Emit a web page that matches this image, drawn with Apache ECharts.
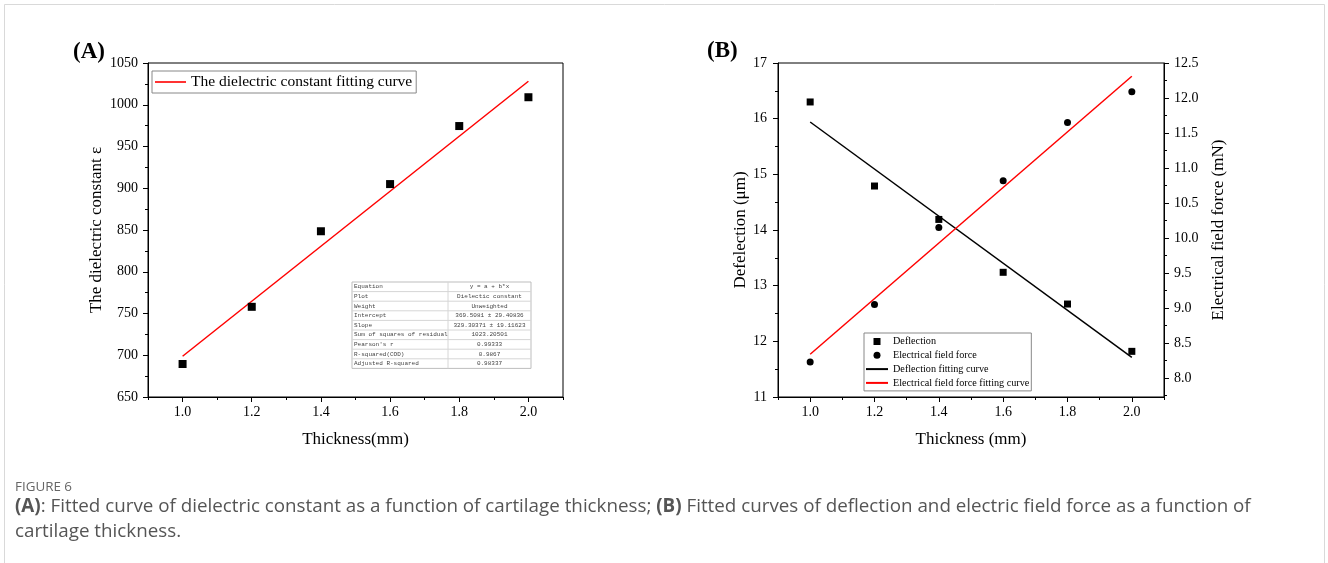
<!DOCTYPE html>
<html>
<head>
<meta charset="utf-8">
<script src="https://cdn.jsdelivr.net/npm/echarts@6/dist/echarts.min.js"></script>
<style>html,body{margin:0;padding:0;background:#fff;}#chart{width:1328px;height:563px;}</style>
</head>
<body>
<div id="chart"></div>
<script>
// ---- data ----
const thickness = [1.0, 1.2, 1.4, 1.6, 1.8, 2.0];
const dielectricConstant = [689.5, 758, 848.5, 905, 974.5, 1009];
const fitX = [1.0, 2.0];
const dielectricFit = [698.8, 1028.1];
const deflection = [16.30, 14.79, 14.19, 13.24, 12.67, 11.82];
const fieldForce = [8.23, 9.05, 10.15, 10.82, 11.65, 12.09];
const deflectionFit = [15.94, 11.71];
const fieldForceFit = [8.34, 12.31];
// tick values
const xMajor = [1.0, 1.2, 1.4, 1.6, 1.8, 2.0];
const xMinor = [0.9, 1.1, 1.3, 1.5, 1.7, 1.9, 2.1];
const aYMajor = [650, 700, 750, 800, 850, 900, 950, 1000, 1050];
const aYMinor = [675, 725, 775, 825, 875, 925, 975, 1025];
const bLMajor = [11, 12, 13, 14, 15, 16, 17];
const bLMinor = [11.5, 12.5, 13.5, 14.5, 15.5, 16.5];
const bRMajor = [8.0, 8.5, 9.0, 9.5, 10.0, 10.5, 11.0, 11.5, 12.0, 12.5];
const bRMinor = [7.75, 8.25, 8.75, 9.25, 9.75, 10.25, 10.75, 11.25, 11.75, 12.25];
// fit statistics table
const tableLabels = ['Equation', 'Plot', 'Weight', 'Intercept', 'Slope', 'Sum of squares of residual', "Pearson's r", 'R-squared(COD)', 'Adjusted R-squared'];
const tableValues = ['y = a + b*x', 'Dielectic constant', 'Unweighted', '369.5081 \u00b1 29.40836', '329.30371 \u00b1 19.11623', '1023.20501', '0.99333', '0.9867', '0.98337'];

const SERIF = '"Liberation Serif", "Times New Roman", serif';
const lbl = {fontFamily: SERIF, fontSize: 14, color: '#000'};
const nameStyle = {fontFamily: SERIF, fontSize: 17, color: '#000'};
const axLine = {show: true, onZero: false, lineStyle: {color: '#000', width: 1}};

function pair(xs, ys) { return xs.map((x, i) => [x, ys[i]]); }

function xAxes(grid, name) {
  return [
    {type: 'value', gridIndex: grid, position: 'bottom', min: 0.9, max: 2.1,
     name: name, nameLocation: 'middle', nameGap: 34, nameTextStyle: nameStyle,
     axisLine: axLine, splitLine: {show: false},
     axisTick: {show: true, length: 5, customValues: xMajor, lineStyle: {color: '#000'}},
     axisLabel: {customValues: xMajor, margin: 8, formatter: v => v.toFixed(1), ...lbl}},
    {type: 'value', gridIndex: grid, position: 'bottom', min: 0.9, max: 2.1,
     axisLine: {show: false}, splitLine: {show: false}, axisLabel: {show: false},
     axisTick: {show: true, length: 3, customValues: xMinor, lineStyle: {color: '#000'}}}
  ];
}
function yAxes(grid, pos, min, max, major, minor, name, gap, margin, fmt) {
  return [
    {type: 'value', gridIndex: grid, position: pos, min: min, max: max,
     name: name, nameLocation: 'middle', nameGap: gap, nameTextStyle: nameStyle,
     axisLine: axLine, splitLine: {show: false},
     axisTick: {show: true, length: 5, customValues: major, lineStyle: {color: '#000'}},
     axisLabel: {customValues: major, margin: margin, formatter: fmt, ...lbl}},
    {type: 'value', gridIndex: grid, position: pos, min: min, max: max,
     axisLine: {show: false}, splitLine: {show: false}, axisLabel: {show: false},
     axisTick: {show: true, length: 3, customValues: minor, lineStyle: {color: '#000'}}}
  ];
}

// table graphic
const tX = 352, tY = 282, tW = 179, rowH = 9.6, colX = 448;
const tableEls = [{type: 'rect', shape: {x: tX, y: tY, width: tW, height: rowH * tableLabels.length},
  style: {fill: '#fff', stroke: '#bdbdbd', lineWidth: 1}},
  {type: 'line', shape: {x1: colX, y1: tY, x2: colX, y2: tY + rowH * tableLabels.length}, style: {stroke: '#d6d6d6', lineWidth: 1}}];
tableLabels.forEach((t, i) => {
  if (i > 0) tableEls.push({type: 'line', shape: {x1: tX, y1: tY + rowH * i, x2: tX + tW, y2: tY + rowH * i}, style: {stroke: '#d6d6d6', lineWidth: 1}});
  tableEls.push({type: 'text', x: tX + 2, y: tY + rowH * i + rowH / 2, style: {text: t, fontFamily: '"Liberation Mono", monospace', fontSize: 6, fill: '#444', verticalAlign: 'middle'}});
  tableEls.push({type: 'text', x: (colX + tX + tW) / 2, y: tY + rowH * i + rowH / 2, style: {text: tableValues[i], fontFamily: '"Liberation Mono", monospace', fontSize: 6, fill: '#444', align: 'center', verticalAlign: 'middle'}});
});

const lineIconA = 'path://M0,0H31V1.6H0Z';
const lineIconB = 'path://M0,0H22V2H0Z';

const chart = echarts.init(document.getElementById('chart'), null, {renderer: 'canvas'});
chart.setOption({
  backgroundColor: '#fff',
  animation: false,
  grid: [
    {left: 148, top: 63, width: 415, height: 334, show: true, borderColor: '#000', borderWidth: 1, backgroundColor: 'transparent'},
    {left: 778, top: 63, width: 386, height: 334, show: true, borderColor: '#000', borderWidth: 1, backgroundColor: 'transparent'}
  ],
  xAxis: [...xAxes(0, 'Thickness(mm)'), ...xAxes(1, 'Thickness (mm)')],
  yAxis: [
    ...yAxes(0, 'left', 650, 1050, aYMajor, aYMinor, 'The dielectric constant \u03b5', 43, 10, v => String(v)),
    ...yAxes(1, 'left', 11, 17, bLMajor, bLMinor, 'Defelection (\u03bcm)', 28, 11, v => String(v)),
    ...yAxes(1, 'right', 7.73, 12.5, bRMajor, bRMinor, 'Electrical field force (mN)', 46, 10, v => v.toFixed(1))
  ],
  legend: [
    {data: [{name: 'The dielectric constant fitting curve', icon: lineIconA}], left: 152, top: 71, padding: [3, 4, 3, 3],
     itemWidth: 31, itemHeight: 14, borderColor: '#888', borderWidth: 1, backgroundColor: '#fff',
     textStyle: {fontFamily: SERIF, fontSize: 15.5, color: '#000'}},
    {data: [{name: 'Deflection', icon: 'path://M0,0H10V10H0Z'}, {name: 'Electrical field force', icon: 'circle'},
            {name: 'Deflection fitting curve', icon: lineIconB}, {name: 'Electrical field force fitting curve', icon: lineIconB}],
     orient: 'vertical', left: 864, top: 333, padding: [3.5, 2, 3, 2], itemGap: 3.8,
     itemWidth: 22, itemHeight: 7, borderColor: '#888', borderWidth: 1, backgroundColor: '#fff',
     textStyle: {fontFamily: SERIF, fontSize: 10.2, color: '#000'}}
  ],
  series: [
    {name: 'The dielectric constant fitting curve', type: 'line', xAxisIndex: 0, yAxisIndex: 0,
     data: pair(fitX, dielectricFit), symbol: 'none', lineStyle: {color: '#ff0000', width: 1.5}, itemStyle: {color: '#ff0000'}, z: 2},
    {name: 'Dielectric constant', type: 'scatter', xAxisIndex: 0, yAxisIndex: 0,
     data: pair(thickness, dielectricConstant), symbol: 'rect', symbolSize: 8, itemStyle: {color: '#000', opacity: 1}, z: 3},
    {name: 'Deflection', type: 'scatter', xAxisIndex: 2, yAxisIndex: 2,
     data: pair(thickness, deflection), symbol: 'rect', symbolSize: 7, itemStyle: {color: '#000', opacity: 1}, z: 3},
    {name: 'Electrical field force', type: 'scatter', xAxisIndex: 2, yAxisIndex: 4,
     data: pair(thickness, fieldForce), symbol: 'circle', symbolSize: 7, itemStyle: {color: '#000', opacity: 1}, z: 3},
    {name: 'Deflection fitting curve', type: 'line', xAxisIndex: 2, yAxisIndex: 2,
     data: pair(fitX, deflectionFit), symbol: 'none', lineStyle: {color: '#000', width: 1.5}, itemStyle: {color: '#000'}, z: 2},
    {name: 'Electrical field force fitting curve', type: 'line', xAxisIndex: 2, yAxisIndex: 4,
     data: pair(fitX, fieldForceFit), symbol: 'none', lineStyle: {color: '#ff0000', width: 1.5}, itemStyle: {color: '#ff0000'}, z: 2}
  ],
  graphic: [
    {type: 'rect', shape: {x: 4.5, y: 4.5, width: 1320, height: 700}, style: {fill: 'none', stroke: '#d9d9d9', lineWidth: 1}, silent: true},
    {type: 'text', x: 73, y: 52, style: {text: '(A)', fontFamily: SERIF, fontWeight: 'bold', fontSize: 23, fill: '#000', verticalAlign: 'middle'}},
    {type: 'text', x: 707, y: 51, style: {text: '(B)', fontFamily: SERIF, fontWeight: 'bold', fontSize: 23, fill: '#000', verticalAlign: 'middle'}},
    {type: 'group', children: tableEls},
    {type: 'text', x: 15, y: 487, style: {text: 'FIGURE 6', fontFamily: '"Open Sans", sans-serif', fontSize: 13.4, fill: '#666', verticalAlign: 'middle'}},
    {type: 'text', x: 15, y: 494, style: {
      text: '{b|(A)}: Fitted curve of dielectric constant as a function of cartilage thickness; {b|(B)} Fitted curves of deflection and electric field force as a function of\ncartilage thickness.',
      fontFamily: '"Open Sans", sans-serif', fontSize: 18.8, fill: '#555', lineHeight: 25,
      rich: {b: {fontFamily: '"Open Sans", sans-serif', fontSize: 18.8, fontWeight: 'bold', fill: '#555', lineHeight: 25}}}}
  ]
});
</script>
</body>
</html>
